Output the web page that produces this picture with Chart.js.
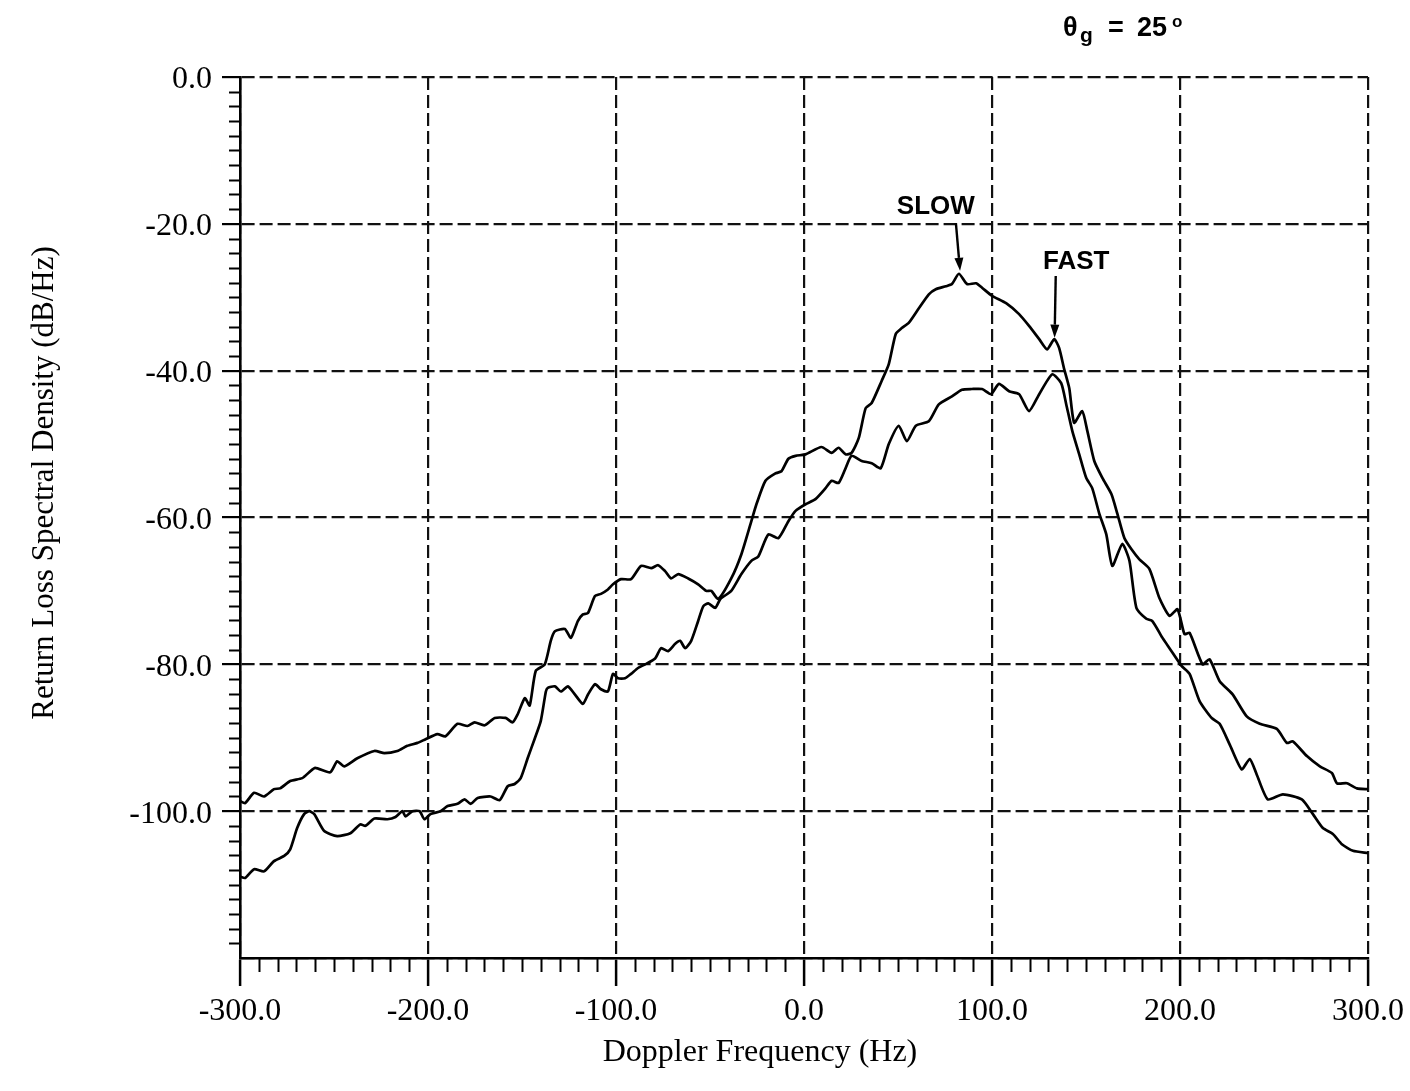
<!DOCTYPE html>
<html>
<head>
<meta charset="utf-8">
<script src="https://cdn.jsdelivr.net/npm/chart.js@4"></script>
<style>
html,body{margin:0;padding:0;background:#fff;}
#wrap{width:1410px;height:1091px;position:relative;}
</style>
</head>
<body>
<div id="wrap"><canvas id="c" width="1410" height="1091"></canvas></div>
<script>
// ---- Data (Doppler frequency in Hz, level in dB/Hz) ----
const slowFreq = [-300,-297.3,-292.5,-287.2,-281.9,-278.7,-273.3,-266.9,-263.2,-260,-252,-248.3,-244.5,-237.6,-228.5,-223.2,-216.3,-211,-205.6,-201.3,-195,-190.7,-184.3,-179,-175.2,-169.9,-164.5,-158.7,-155,-152.3,-148.5,-145.9,-142.7,-137.9,-134.7,-132.5,-127.2,-124,-120.3,-117.6,-114.9,-111.2,-108,-104.3,-101.6,-97.3,-92,-86.7,-81.3,-77.6,-73.9,-70.7,-66.9,-61.6,-56.3,-52,-49.3,-45.6,-38.7,-33.3,-28,-25.3,-20.5,-15.2,-12,-8.3,-4.5,0.8,9.3,14.7,18.4,22.1,25.3,29.1,32.8,36,41.3,45.1,48.8,52,55.7,61.1,66.4,70.1,75.5,78.7,82.4,86.7,91.5,94.7,100,107.5,114.4,119.7,125.1,129.3,133.1,135.7,138.4,141.1,143.7,148,150.7,154.4,158.7,163.5,166.7,170.4,174.1,178.4,183.7,189.1,194.4,198.7,202.4,205.1,212,215.7,221.1,228,235.5,242.4,251.5,256.8,260,267.5,274.4,280.8,283.5,288.8,294.1,300];
const slowDb = [-98.6,-98.9,-97.5,-98.0,-97.0,-96.9,-95.9,-95.5,-94.7,-94.1,-94.7,-93.2,-93.9,-92.8,-91.8,-92.1,-91.8,-91.1,-90.7,-90.2,-89.5,-89.8,-88.1,-88.4,-87.9,-88.3,-87.3,-87.3,-87.9,-86.8,-84.6,-85.6,-80.9,-80.0,-76.8,-75.5,-75.2,-76.4,-74.1,-73.2,-73.0,-70.7,-70.4,-69.8,-69.1,-68.4,-68.4,-66.6,-66.9,-66.5,-67.3,-68.3,-67.7,-68.3,-69.1,-70.0,-70.0,-71.1,-68.3,-65.0,-60.5,-58.2,-55.0,-54.0,-53.7,-52.0,-51.6,-51.4,-50.4,-51.2,-50.5,-51.4,-51.2,-49.2,-45.1,-44.4,-41.4,-39.1,-35.0,-34.2,-33.5,-31.5,-29.6,-28.9,-28.5,-28.2,-26.8,-28.2,-28.1,-28.7,-29.8,-30.8,-32.3,-33.9,-35.7,-37.1,-35.7,-36.9,-39.8,-42.4,-47.1,-45.5,-48.2,-52.3,-54.6,-56.8,-59.5,-62.8,-64.3,-65.7,-67.0,-71.0,-73.4,-72.5,-75.9,-75.7,-80.0,-79.3,-82.3,-84.1,-87.1,-88.1,-88.8,-90.7,-90.5,-92.5,-93.9,-94.8,-96.2,-96.2,-96.9,-97.0];

const fastFreq = [-300,-297.3,-292.5,-287.2,-281.9,-276.5,-273.3,-269.6,-265.9,-263.2,-260.5,-255.2,-248.3,-241.3,-236,-233.3,-228.5,-221.6,-217.3,-213.6,-212,-208.3,-204.5,-201.9,-198.7,-193.3,-189.6,-184.3,-180.5,-177.3,-173.6,-166.7,-161.9,-157.6,-153.9,-150.7,-147,-143.2,-140,-137.3,-136.3,-132.5,-129.3,-125.6,-121.9,-117.6,-114.9,-111.2,-108,-104.3,-101.6,-98.9,-95.2,-92,-88.3,-84.5,-79.2,-76,-72.3,-68.5,-65.9,-63.2,-60,-56.3,-53.6,-50.9,-47.2,-44.5,-38.7,-33.3,-28,-24.3,-19,-13.6,-8.3,-4.5,0.8,6.1,11.5,14.7,18.4,22.1,25.3,30.7,36,40.8,45.1,50.4,54.7,59.5,66.4,71.7,78.7,84,89.3,94.7,99.5,103.7,109.1,114.4,119.7,125.1,132,136.8,139.5,142.7,146.4,150.1,153.3,157.1,160.8,164,169.3,173.1,176.8,182.1,185.3,190.7,194.4,200.8,205.1,210.4,216.8,221.1,226.4,232.8,237.1,240.8,246.7,254.7,264.8,270.7,276,281.3,286.1,292,300];
const fastDb = [-108.9,-109.1,-107.9,-108.2,-106.8,-106.1,-105.2,-102.3,-100.4,-100.0,-100.4,-102.7,-103.4,-103.0,-101.8,-102.0,-101.0,-101.1,-100.8,-100.0,-100.7,-100.0,-100.0,-101.1,-100.4,-100.0,-99.3,-99.0,-98.4,-99.0,-98.2,-98.0,-98.5,-96.6,-96.3,-95.5,-92.8,-90.1,-87.7,-83.7,-83.2,-83.0,-83.7,-83.0,-84.1,-85.4,-84.1,-82.7,-83.4,-83.7,-81.3,-81.9,-81.9,-81.3,-80.5,-80.0,-79.2,-77.8,-78.2,-77.2,-76.8,-77.8,-76.8,-74.1,-72.1,-71.7,-72.3,-71.1,-70.0,-67.7,-65.9,-65.3,-62.3,-62.8,-60.5,-59.1,-58.2,-57.5,-56.0,-55.0,-55.3,-53.3,-51.6,-52.3,-52.6,-53.3,-50.0,-47.5,-49.6,-47.5,-46.9,-44.6,-43.5,-42.6,-42.5,-42.5,-43.2,-41.8,-42.8,-43.2,-45.5,-43.2,-40.5,-41.7,-44.6,-48.2,-51.4,-54.6,-56.0,-59.5,-62.3,-66.6,-63.6,-65.9,-72.3,-73.8,-74.1,-76.4,-77.8,-80.2,-81.3,-85.0,-87.3,-88.1,-90.9,-94.3,-92.9,-95.0,-98.4,-97.7,-98.4,-100.4,-102.3,-103.1,-104.5,-105.4,-105.7];

const xTickValues = [-300,-200,-100,0,100,200,300];
const yTickValues = [0,-20,-40,-60,-80,-100];
const xTitle = 'Doppler Frequency (Hz)';
const yTitle = 'Return Loss Spectral Density (dB/Hz)';

// Annotations (data coordinates)
const noteLabels = ['SLOW','FAST'];
const noteTextX = [70.1, 144.8];
const noteTextY = [-18.7, -26.2];
const noteArrowFromX = [80.8, 133.9];
const noteArrowFromY = [-19.9, -27.1];
const noteArrowToX = [83.0, 133.3];
const noteArrowToY = [-26.4, -35.5];

const toPoints = (xs, ys) => xs.map((x, i) => ({x: x, y: ys[i]}));

const extrasPlugin = {
  id: 'extras',
  afterDatasetsDraw(chart) {
    const ctx = chart.ctx;
    const xs = chart.scales.x, ys = chart.scales.y;
    const area = chart.chartArea;
    ctx.save();
    ctx.strokeStyle = '#000';
    ctx.fillStyle = '#000';
    // minor ticks on y axis (every 2 dB)
    ctx.lineWidth = 2;
    for (let v = -118; v < 0; v += 2) {
      if (v % 20 === 0) continue;
      const py = Math.round(ys.getPixelForValue(v)) + 0.5;
      ctx.beginPath();
      ctx.moveTo(area.left - 11, py);
      ctx.lineTo(area.left, py);
      ctx.stroke();
    }
    // minor ticks on x axis (every 10 Hz)
    for (let v = -290; v < 300; v += 10) {
      if (v % 100 === 0) continue;
      const px = Math.round(xs.getPixelForValue(v)) + 0.5;
      ctx.beginPath();
      ctx.moveTo(px, area.bottom);
      ctx.lineTo(px, area.bottom + 14);
      ctx.stroke();
    }
    // annotations with arrows
    ctx.font = 'bold 26px "Liberation Sans"';
    ctx.textAlign = 'center';
    ctx.textBaseline = 'alphabetic';
    for (let i = 0; i < noteLabels.length; i++) {
      ctx.fillText(noteLabels[i], xs.getPixelForValue(noteTextX[i]), ys.getPixelForValue(noteTextY[i]));
      const x1 = xs.getPixelForValue(noteArrowFromX[i]), y1 = ys.getPixelForValue(noteArrowFromY[i]);
      const x2 = xs.getPixelForValue(noteArrowToX[i]), y2 = ys.getPixelForValue(noteArrowToY[i]);
      const ang = Math.atan2(y2 - y1, x2 - x1);
      const hl = 13, hw = 4.5;
      ctx.lineWidth = 2.4;
      ctx.beginPath();
      ctx.moveTo(x1, y1);
      ctx.lineTo(x2 - hl * Math.cos(ang), y2 - hl * Math.sin(ang));
      ctx.stroke();
      ctx.beginPath();
      ctx.moveTo(x2, y2);
      ctx.lineTo(x2 - hl * Math.cos(ang) + hw * Math.sin(ang), y2 - hl * Math.sin(ang) - hw * Math.cos(ang));
      ctx.lineTo(x2 - hl * Math.cos(ang) - hw * Math.sin(ang), y2 - hl * Math.sin(ang) + hw * Math.cos(ang));
      ctx.closePath();
      ctx.fill();
    }
    // axis titles
    ctx.font = '32px "Liberation Serif"';
    ctx.textAlign = 'center';
    ctx.fillText(xTitle, 760, 1061);
    ctx.save();
    ctx.translate(53, 483);
    ctx.rotate(-Math.PI / 2);
    ctx.font = '31px "Liberation Serif"';
    ctx.fillText(yTitle, 0, 0);
    ctx.restore();
    // angle note at top right
    ctx.textAlign = 'left';
    ctx.font = 'bold 27px "Liberation Sans"';
    ctx.fillText('\u03B8', 1063, 36);
    ctx.font = 'bold 21px "Liberation Sans"';
    ctx.fillText('g', 1080, 42);
    ctx.font = 'bold 27px "Liberation Sans"';
    ctx.fillText('=', 1108, 36);
    ctx.fillText('25', 1137, 36);
    ctx.font = 'bold 17px "Liberation Sans"';
    ctx.fillText('o', 1172, 27);
    ctx.restore();
  }
};

const tickFont = {family: 'Liberation Serif', size: 32};

new Chart(document.getElementById('c'), {
  type: 'line',
  data: {
    datasets: [
      {label: 'Slow', data: toPoints(slowFreq, slowDb), borderColor: '#000', borderWidth: 2.7, pointRadius: 0, tension: 0.2, fill: false},
      {label: 'Fast', data: toPoints(fastFreq, fastDb), borderColor: '#000', borderWidth: 2.7, pointRadius: 0, tension: 0.2, fill: false}
    ]
  },
  options: {
    responsive: false,
    animation: false,
    devicePixelRatio: 1,
    layout: {padding: {top: 77, right: 42, left: 0, bottom: 0}},
    plugins: {legend: {display: false}, tooltip: {enabled: false}, title: {display: false}},
    scales: {
      x: {
        type: 'linear', min: -300, max: 300,
        afterBuildTicks: s => { s.ticks = xTickValues.map(v => ({value: v})); },
        ticks: {callback: v => Number(v).toFixed(1), font: tickFont, color: '#000', padding: 6, maxRotation: 0, autoSkip: false},
        grid: {color: '#111', lineWidth: 2.2, tickLength: 28, tickWidth: 2.5, tickColor: '#000'},
        border: {display: true, color: '#000', width: 2.6, dash: [13, 5]},
        afterFit: s => { s.height = 133; }
      },
      y: {
        type: 'linear', min: -120, max: 0,
        afterBuildTicks: s => { s.ticks = yTickValues.concat([-120]).map(v => ({value: v})); },
        ticks: {callback: v => (v === -120 ? '' : Number(v).toFixed(1)), font: tickFont, color: '#000', padding: 10, autoSkip: false, labelOffset: 3},
        grid: {color: '#111', lineWidth: 2.2, tickLength: 18, tickWidth: 2.2, tickColor: c => (c.tick && c.tick.value === -120 ? 'rgba(0,0,0,0)' : '#000')},
        border: {display: true, color: '#000', width: 2.6, dash: [13, 5]},
        afterFit: s => { s.width = 240; }
      }
    }
  },
  plugins: [extrasPlugin]
});
</script>
</body>
</html>
